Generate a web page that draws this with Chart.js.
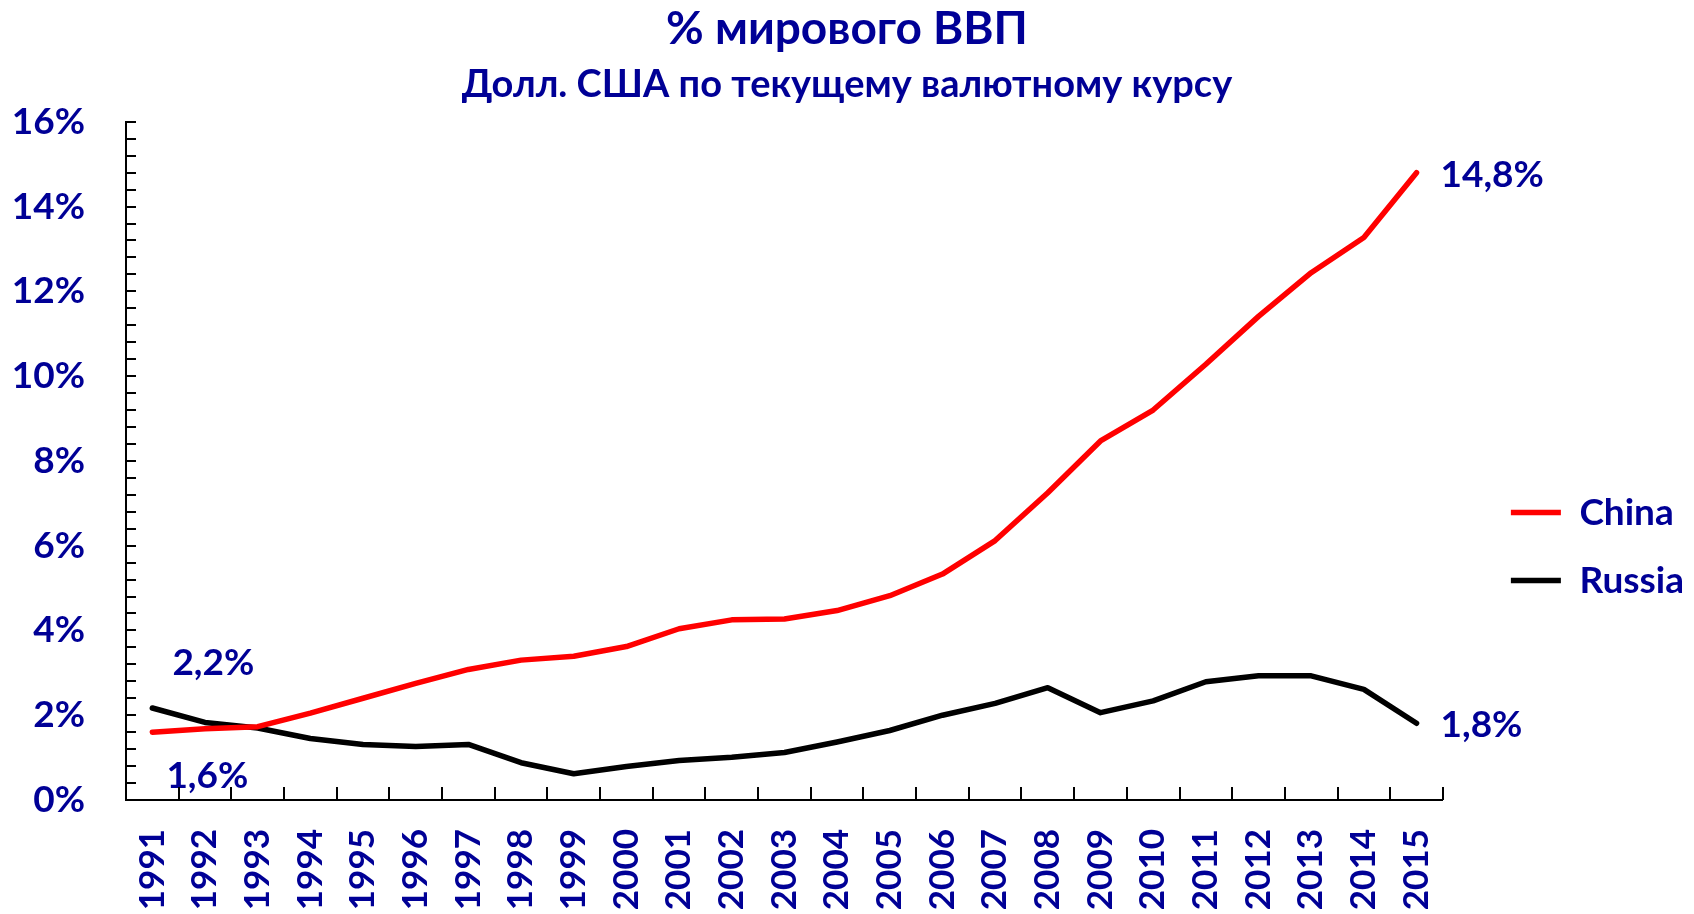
<!DOCTYPE html>
<html>
<head>
<meta charset="utf-8">
<script src="https://cdn.jsdelivr.net/npm/chart.js@4"></script>
<style>
  html, body { margin: 0; padding: 0; background: #fff; }
  #wrap { width: 1694px; height: 914px; }
</style>
</head>
<body>
<div id="wrap"><canvas id="gdpChart"></canvas></div>
<script>
// данные: доля в мировом ВВП, %
const years = ["1991", "1992", "1993", "1994", "1995", "1996", "1997", "1998", "1999", "2000",
               "2001", "2002", "2003", "2004", "2005", "2006", "2007", "2008", "2009", "2010",
               "2011", "2012", "2013", "2014", "2015"];
const china = [1.60, 1.68, 1.73, 2.05, 2.40, 2.75, 3.08, 3.30, 3.39, 3.62,
               4.04, 4.25, 4.27, 4.47, 4.82, 5.33, 6.12, 7.25, 8.47, 9.20,
               10.28, 11.41, 12.44, 13.27, 14.80];
const russia = [2.17, 1.83, 1.70, 1.45, 1.31, 1.26, 1.31, 0.88, 0.62, 0.79,
                0.93, 1.01, 1.12, 1.37, 1.64, 2.00, 2.28, 2.65, 2.06, 2.34,
                2.79, 2.93, 2.93, 2.61, 1.81];
const yTicks = [0, 2, 4, 6, 8, 10, 12, 14, 16];
const yMinorStep = 0.4;

const blue = "#000096";
const font = "Lato";

function fmt(v) {
    return v.toFixed(1).replace(".", ",") + "%";
}

// подписи значений: [серия, индекс точки, сдвиг x, сдвиг y, выравнивание]
const valueLabels = [
    [0, 0, 55, 44, "center"],
    [1, 0, 61, -45, "center"],
    [0, years.length - 1, 24, 2, "left"],
    [1, years.length - 1, 24, 2, "left"]
];

const innerTicks = {
    id: "innerTicks",
    afterDraw(chart) {
        const { ctx, chartArea: a, scales: { x, y } } = chart;
        ctx.save();
        ctx.strokeStyle = "#000";
        ctx.lineWidth = 2;
        ctx.beginPath();
        const top = yTicks[yTicks.length - 1];
        for (let k = 0; k * yMinorStep <= top + 1e-6; k++) {
            const py = Math.round(y.getPixelForValue(k * yMinorStep));
            ctx.moveTo(a.left, py);
            ctx.lineTo(a.left + 10, py);
        }
        for (let i = 1; i <= years.length; i++) {
            const px = Math.round(x.getPixelForValue(i - 0.5));
            ctx.moveTo(px, a.bottom);
            ctx.lineTo(px, a.bottom - 13);
        }
        ctx.stroke();
        ctx.restore();
    }
};

const pointLabels = {
    id: "pointLabels",
    afterDatasetsDraw(chart) {
        const ctx = chart.ctx;
        ctx.save();
        ctx.fillStyle = blue;
        ctx.font = "bold 37px " + font;
        ctx.textBaseline = "middle";
        valueLabels.forEach(([ds, idx, dx, dy, align]) => {
            const pt = chart.getDatasetMeta(ds).data[idx];
            ctx.textAlign = align;
            ctx.fillText(fmt(chart.data.datasets[ds].data[idx]), pt.x + dx, pt.y + dy);
        });
        ctx.restore();
    }
};

const ctx = document.getElementById("gdpChart").getContext("2d");
const gdpChart = new Chart(ctx, {
    type: "line",
    data: {
        labels: years,
        datasets: [{
            label: "China",
            data: china,
            borderColor: "#ff0000",
            backgroundColor: "#ff0000",
            borderWidth: 5.5,
            borderCapStyle: "round",
            borderJoinStyle: "round",
            pointRadius: 0,
            tension: 0
        }, {
            label: "Russia",
            data: russia,
            borderColor: "#000000",
            backgroundColor: "#000000",
            borderWidth: 5.5,
            borderCapStyle: "round",
            borderJoinStyle: "round",
            pointRadius: 0,
            tension: 0
        }]
    },
    options: {
        responsive: true,
        maintainAspectRatio: false,
        animation: false,
        layout: { padding: 0 },
        plugins: {
            title: {
                display: true,
                text: "% мирового ВВП",
                color: blue,
                font: { family: font, size: 46, weight: "bold" },
                padding: { top: 2, bottom: 5 }
            },
            subtitle: {
                display: true,
                text: "Долл. США по текущему валютному курсу",
                color: blue,
                font: { family: font, size: 38, weight: "bold" },
                padding: { top: 0, bottom: 14 }
            },
            legend: {
                position: "right",
                title: { display: true, text: "", font: { size: 1 }, padding: { top: 178, bottom: 0 } },
                labels: {
                    usePointStyle: true,
                    pointStyle: "line",
                    pointStyleWidth: 50,
                    padding: 31,
                    color: blue,
                    font: { family: font, size: 37, weight: "bold" }
                }
            },
            tooltip: { enabled: false }
        },
        scales: {
            x: {
                offset: true,
                grid: { display: false, drawTicks: false },
                border: { color: "#000", width: 2 },
                ticks: {
                    autoSkip: false,
                    minRotation: 90,
                    maxRotation: 90,
                    padding: 29,
                    color: blue,
                    font: { family: font, size: 35, weight: "bold" }
                },
                afterFit: (s) => { s.height = 114; }
            },
            y: {
                min: 0,
                max: 16,
                grid: { display: false, drawTicks: false },
                border: { color: "#000", width: 2 },
                afterBuildTicks: (s) => { s.ticks = yTicks.map(v => ({ value: v })); },
                ticks: {
                    padding: 41,
                    color: blue,
                    font: { family: font, size: 37, weight: "bold" },
                    callback: (v) => v + "%"
                },
                afterFit: (s) => { s.width = 126; }
            },
            yGap: {
                position: "right",
                grid: { display: false },
                border: { display: false },
                ticks: { display: false },
                afterFit: (s) => { s.width = 37; }
            }
        }
    },
    plugins: [innerTicks, pointLabels]
});
</script>
</body>
</html>
